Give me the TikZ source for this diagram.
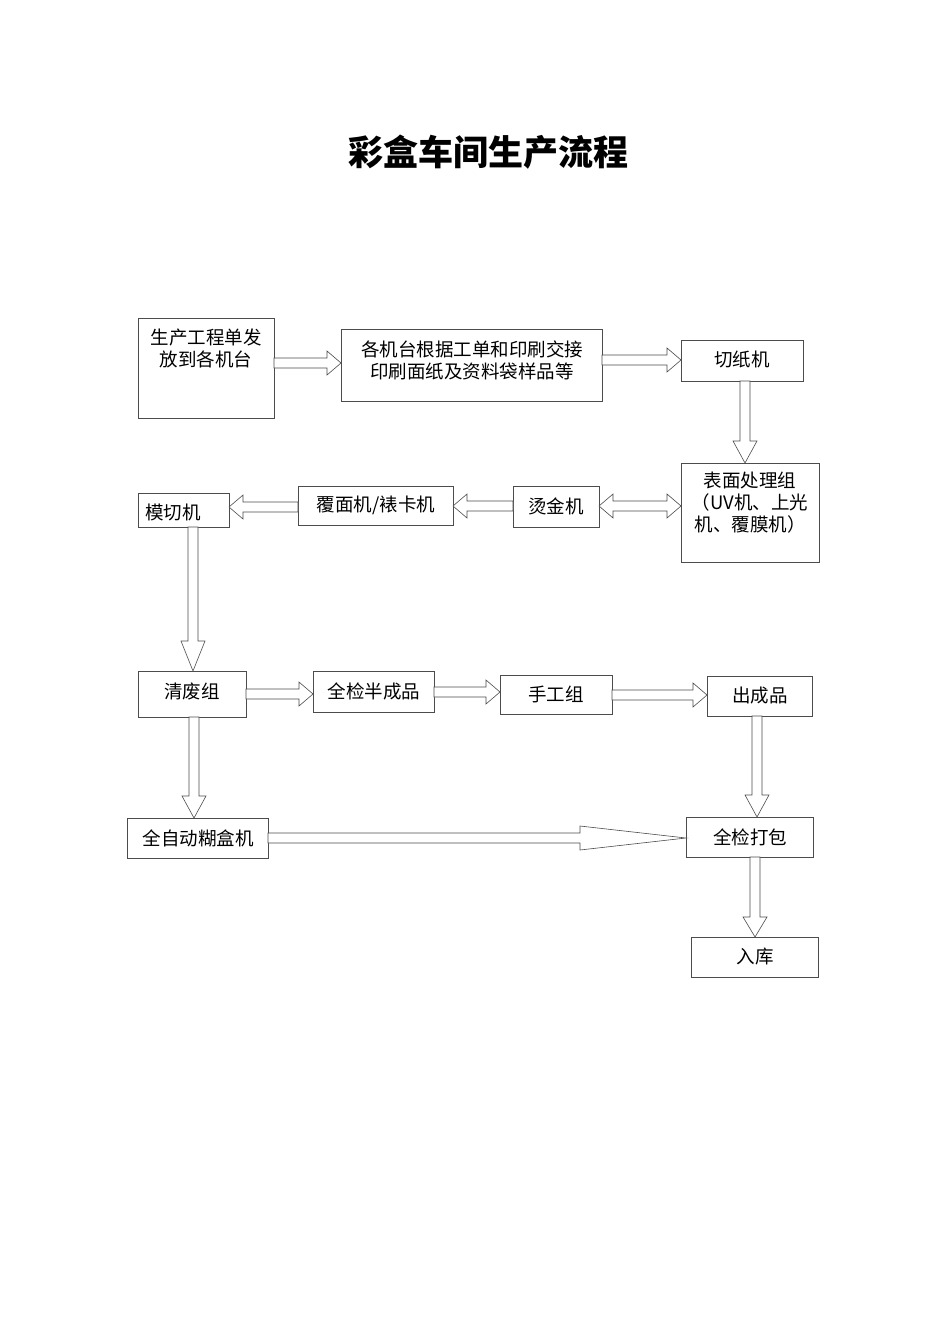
\documentclass[tikz,border=0pt]{standalone}
\usepackage{fontspec}
\newfontfamily\cjk{Noto Sans CJK SC}
\begin{document}
\begin{tikzpicture}[x=1pt,y=1pt,
  box/.style={draw=black!70,line width=0.7pt,inner sep=0pt},
  txt/.style={font=\cjk\fontsize{18.5}{22}\selectfont,align=center,inner sep=0pt},
  arr/.style={draw=black!70,line width=0.6pt,fill=white}]
\useasboundingbox (0,0) rectangle (950,-1344);
\newcommand\bx[5]{\node[box,minimum width=#4-#2,minimum height=#5-#3,anchor=north west] (#1) at (#2,-#3) {};}
\newcommand\HA[4]{\draw[arr] ({#1},{-#3+5}) -- ({#2-(#4)},{-#3+5}) -- ({#2-(#4)},{-#3+12}) -- ({#2},{-#3}) -- ({#2-(#4)},{-#3-12}) -- ({#2-(#4)},{-#3-5}) -- ({#1},{-#3-5}) -- cycle;}
\newcommand\VA[4]{\draw[arr] ({#3-5},{-#1}) -- ({#3-5},{-#2+(#4)}) -- ({#3-12},{-#2+(#4)}) -- ({#3},{-#2}) -- ({#3+12},{-#2+(#4)}) -- ({#3+5},{-#2+(#4)}) -- ({#3+5},{-#1}) -- cycle;}
\node[font=\cjk\bfseries\fontsize{35}{40}\selectfont] (title) at (488,-152) {彩盒车间生产流程};
\bx{b1}{138}{318}{274}{418}
\bx{b2}{341}{329}{602}{401}
\bx{b3}{681}{340}{803}{381}
\bx{b4}{681}{463}{819}{562}
\bx{b5}{513}{486}{599}{527}
\bx{b6}{298}{486}{453}{525}
\bx{b7}{138}{493}{229}{527}
\bx{b8}{138}{671}{246}{717}
\bx{b9}{313}{671}{434}{712}
\bx{b10}{500}{675}{612}{714}
\bx{b11}{707}{676}{812}{716}
\bx{b12}{127}{818}{268}{858}
\bx{b13}{686}{817}{813}{857}
\bx{b14}{691}{937}{818}{977}
\node[txt] (t1) at (206,-348) {生产工程单发\\放到各机台};
\node[txt] (t2) at (472,-360) {各机台根据工单和印刷交接\\印刷面纸及资料袋样品等};
\node[txt] (t3) at (742,-359) {切纸机};
\node[txt] (t4) at (750,-503) {表面处理组\\（UV机、上光\\机、覆膜机）};
\node[txt] (t5) at (556,-506) {烫金机};
\node[txt] (t6) at (376,-505) {覆面机/裱卡机};
\node[txt,anchor=west] (t7) at (145,-512) {模切机};
\node[txt] (t8) at (192,-691) {清废组};
\node[txt] (t9) at (374,-691) {全检半成品};
\node[txt] (t10) at (556,-694) {手工组};
\node[txt] (t11) at (760,-696) {出成品};
\node[txt] (t12) at (198,-838) {全自动糊盒机};
\node[txt] (t13) at (750,-837) {全检打包};
\node[txt] (t14) at (755,-957) {入库};
\HA{274}{341}{363}{14}
\HA{602}{681}{360}{14}
\VA{381}{463}{745}{22}
\HA{513}{453}{506}{-14}
\HA{298}{229}{507}{-14}
\VA{527}{671}{193}{30}
\HA{246}{313}{694}{14}
\HA{434}{500}{692}{14}
\HA{612}{707}{695}{14}
\VA{716}{817}{757}{22}
\VA{717}{818}{194}{22}
\HA{268}{686}{838}{106}
\VA{857}{937}{755}{20}
\draw[arr] (599,-506) -- (613,-494) -- (613,-501) -- (667,-501) -- (667,-494) -- (681,-506) -- (667,-518) -- (667,-511) -- (613,-511) -- (613,-518) -- cycle;
\end{tikzpicture}
\end{document}
